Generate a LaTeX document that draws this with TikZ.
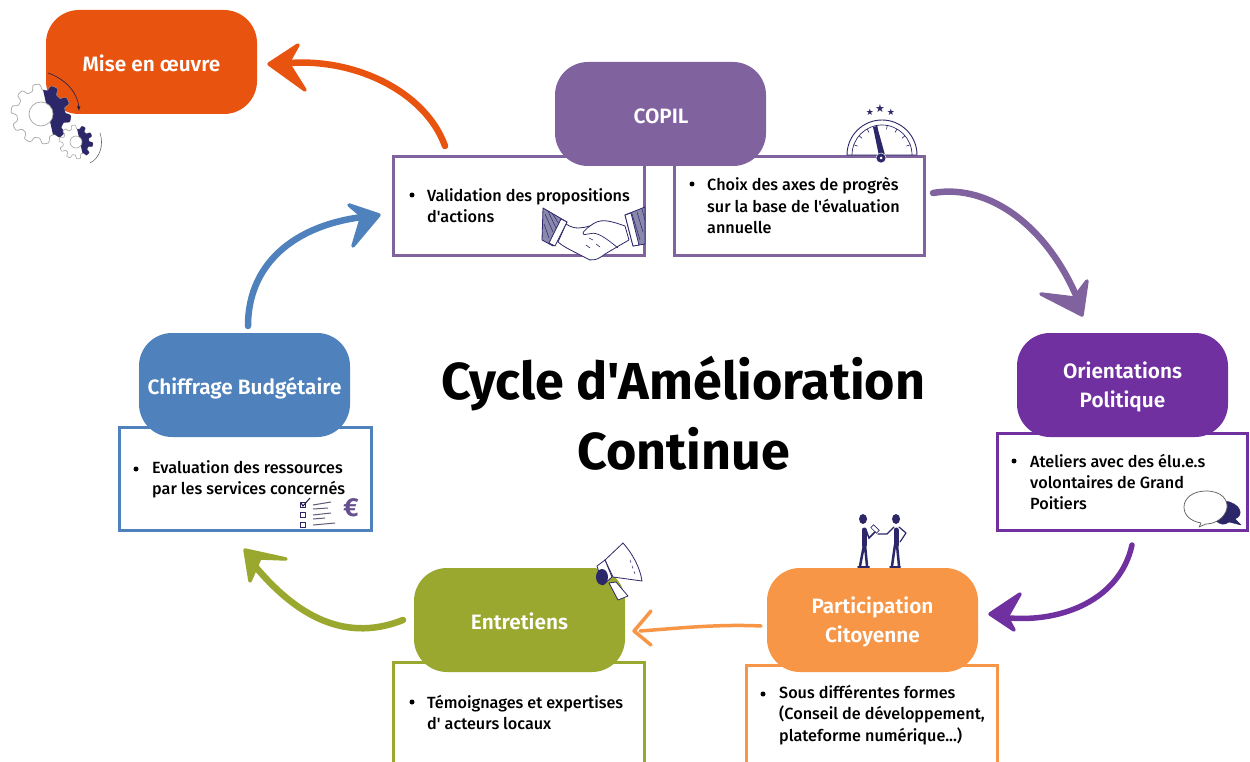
\documentclass[tikz,border=0pt]{standalone}
\usepackage{fontspec}
\setmainfont{Fira Sans}
\newfontfamily\titlefont{Fira Sans Bold}
\newfontfamily\labelfont{Fira Sans SemiBold}
\newfontfamily\bodyfont{Fira Sans Medium}
\newfontfamily\symfont{DejaVu Sans}
\definecolor{cOrange}{HTML}{E8540F}
\definecolor{cCopil}{HTML}{80629F}
\definecolor{cPol}{HTML}{7030A0}
\definecolor{cPart}{HTML}{F79646}
\definecolor{cGreen}{HTML}{9BA82F}
\definecolor{cBlue}{HTML}{4F81BD}
\definecolor{cNavy}{HTML}{2B2768}
\tikzset{
  pill/.style={fill=#1,rounded corners=33pt,minimum width=211pt,minimum height=104pt,inner sep=0pt},
  pilltext/.style={inner sep=0pt,text=white,align=center,font=\labelfont\fontsize{20.8}{29}\selectfont},
  infobox/.style={draw=#1,fill=white,line width=3pt,inner sep=0pt},
  bultext/.style={anchor=west,align=left,inner sep=0pt,text=black,font=\bodyfont\fontsize{16.2}{21.3}\selectfont},
  bulletdot/.style={circle,fill=black,minimum size=5pt,inner sep=0pt},
  curve/.style={draw=#1,line width=6.5pt,line cap=round},
  headshape/.style={fill=#1,draw=#1,line width=3.5pt,line join=round},
  icon/.style={draw=cNavy,line width=.8pt,line join=round},
}
% gear: cx cy radius amp startangle endangle
\newcommand{\gearpath}[6]{plot[domain=#5:#6,samples=140] ({#1+(#3+#4*tanh(3*sin(10*\x)))*cos(\x)},{#2+(#3+#4*tanh(3*sin(10*\x)))*sin(\x)})}
\begin{document}
\begin{tikzpicture}[x=1pt,y=-1pt]
\useasboundingbox (0,0) rectangle (1250,762);
\fill[white] (0,0) rectangle (1250,762);

% outlined boxes
\node[infobox=cCopil,minimum width=251pt,minimum height=99pt] (bval) at (519,206) {};
\node[infobox=cCopil,minimum width=250pt,minimum height=99pt] (bchoix) at (799.5,206) {};
\node[infobox=cPol,minimum width=250pt,minimum height=97pt] (bpol) at (1122,482) {};
\node[infobox=cPart,minimum width=251pt,minimum height=110pt] (bpart) at (872,720) {};
\node[infobox=cGreen,minimum width=251pt,minimum height=110pt] (bent) at (519,717) {};
\node[infobox=cBlue,minimum width=252pt,minimum height=103pt] (bchif) at (245,479) {};

% pills
\node[pill=cOrange] (mise) at (151.5,62) {};
\node[pill=cCopil] (copil) at (660.5,114) {};
\node[pill=cPol] (orient) at (1122.5,385) {};
\node[pill=cPart] (partic) at (872.5,620) {};
\node[pill=cGreen] (entre) at (519.5,620) {};
\node[pill=cBlue] (chiff) at (244.5,385) {};
\node[pilltext] (lmise) at (151.5,63) {Mise en œuvre};
\node[pilltext] (lcopil) at (661,116) {COPIL};
\node[pilltext] (lorient) at (1122.5,387) {Orientations\\Politique};
\node[pilltext] (lpartic) at (872.5,622) {Participation\\Citoyenne};
\node[pilltext] (lentre) at (519.5,621) {Entretiens};
\node[pilltext] (lchiff) at (244.5,388) {Chiffrage Budgétaire};

% title
\node[inner sep=0pt,align=center,font=\titlefont\fontsize{52}{70}\selectfont] (title) at (683.5,413) {Cycle d'Amélioration\\Continue};

% bullet texts
\node[bulletdot] (d1) at (412,195) {};
\node[bultext] (t1) at (427,205.5) {Validation des propositions\\d'actions};
\node[bulletdot] (d2) at (692,184) {};
\node[bultext] (t2) at (707,205.5) {Choix des axes de progrès\\sur la base de l'évaluation\\annuelle};
\node[bulletdot] (d3) at (1014,461) {};
\node[bultext] (t3) at (1030,482) {Ateliers avec des élu.e.s\\volontaires de Grand\\Poitiers};
\node[bulletdot] (d4) at (763,694) {};
\node[bultext] (t4) at (779,715) {Sous différentes formes\\(Conseil de développement,\\plateforme numérique...)};
\node[bulletdot] (d5) at (412,702) {};
\node[bultext] (t5) at (427,712.5) {Témoignages et expertises\\d' acteurs locaux};
\node[bulletdot] (d6) at (136,469) {};
\node[bultext] (t6) at (152,479.5) {Evaluation des ressources\\par les services concernés};

% connector ends
\coordinate (a1s) at (445,146);
\coordinate (a1e) at (280,64);
\coordinate (a2s) at (933,193);
\coordinate (a2e) at (1080,305);
\coordinate (a3s) at (1132,545);
\coordinate (a3e) at (1000,617);
\coordinate (a4s) at (761,626);
\coordinate (a4e) at (640,631);
\coordinate (a5s) at (403,620);
\coordinate (a5e) at (250,560);
\coordinate (a6s) at (248,326);
\coordinate (a6e) at (372,216);

% connectors
\draw[curve=cOrange] (a1s) .. controls (425,90) and (350,55) .. (a1e);
\filldraw[headshape=cOrange] (269,64) -- (298,45) -- (288,63) -- (305,90) -- cycle;
\draw[curve=cCopil] (a2s) .. controls (990,183) and (1050,228) .. (a2e);
\filldraw[headshape=cCopil] (1082,315) -- (1041,294) -- (1074,298) -- (1087,281) -- cycle;
\draw[curve=cPol,line width=5.5pt] (a3s) .. controls (1120,600) and (1060,625) .. (a3e);
\filldraw[headshape=cPol] (990,614) -- (1020,594) -- (1007,617) -- (1014,630) -- cycle;
\draw[curve=cPart,line width=3.5pt] (a4s) .. controls (720,624) and (680,628) .. (a4e);
\draw[draw=cPart,line width=3.5pt,line cap=round,line join=round] (651,611) -- (634,631) -- (651,645);
\draw[curve=cGreen] (a5s) .. controls (340,645) and (290,610) .. (a5e);
\filldraw[headshape=cGreen] (245,550) -- (286,559) -- (260,558) -- (250,581) -- cycle;
\draw[curve=cBlue] (a6s) .. controls (248,260) and (300,222) .. (a6e);
\filldraw[headshape=cBlue] (379,215) -- (349,205) -- (362,216) -- (353,246) -- cycle;

% gears
\draw[gray!70,line width=.7pt,fill=white] \gearpath{41}{114}{27}{3}{0}{360} -- cycle;
\fill[cNavy] \gearpath{41}{114}{27}{3}{-85}{60} -- cycle;
\fill[white] (41,114) circle (12);
\draw[gray!70,line width=.7pt] (41,114) circle (12);
\draw[gray!70,line width=.6pt,fill=white] \gearpath{76}{142}{15}{2}{0}{360} -- cycle;
\fill[cNavy] \gearpath{76}{142}{15}{2}{-85}{60} -- cycle;
\fill[white] (76,142) circle (6);
\draw[gray!70,line width=.6pt] (76,142) circle (6);
\draw[cNavy!70!black,line width=.6pt,-latex] (48,73) .. controls (68,80) and (78,95) .. (79,111);
\draw[gray!80!black,line width=.6pt] (100,133) .. controls (104,145) and (100,158) .. (90,163);

% gauge
\draw[cNavy,line width=.9pt,fill=white] (847,155) arc[start angle=180,end angle=360,radius=35] -- cycle;
\draw[cNavy,line width=.7pt] (852,155) arc[start angle=180,end angle=360,radius=30];
\foreach \a in {20,40,60,80,100,120,140,160}{
  \draw[cNavy,line width=.6pt] ({882+30*cos(\a)},{155-30*sin(\a)}) -- ({882+26*cos(\a)},{155-26*sin(\a)});
}
\fill[cNavy] (873,127) -- (877,126) -- (885,155) -- (879,156) -- cycle;
\filldraw[fill=cNavy,draw=white,line width=.5pt] (881,158) circle (5);
\fill[white] (881,158) circle (1.5);
\node[inner sep=0pt,text=cNavy,font=\symfont\fontsize{9}{9}\selectfont] (s1) at (870,112) {★};
\node[inner sep=0pt,text=cNavy,font=\symfont\fontsize{11}{11}\selectfont] (s2) at (880,109) {★};
\node[inner sep=0pt,text=cNavy,font=\symfont\fontsize{9}{9}\selectfont] (s3) at (891,112) {★};

% handshake
\filldraw[fill=white,draw=cNavy,line width=.8pt,line join=round]
  (566,224) .. controls (575,230) and (582,228) .. (590,226)
  .. controls (600,218) and (608,220) .. (625,226) -- (629,240)
  .. controls (620,245) and (612,250) .. (605,254)
  .. controls (598,260) and (590,262) .. (586,258)
  .. controls (575,252) and (565,248) .. (558,242) -- cycle;
\draw[cNavy,line width=.7pt] (590,226) .. controls (582,232) and (580,236) .. (588,234) .. controls (595,232) and (600,233) .. (618,248);
\draw[cNavy,line width=.6pt] (589,238) -- (593,240) (596,244) -- (600,247) (586,245) -- (590,248);
\filldraw[fill=cNavy!55!white,draw=cNavy,line width=.8pt,line join=round] (543,208) -- (567,222) -- (553,246) -- (542,240) -- cycle;
\draw[cNavy,line width=.5pt] (545,214) -- (553,232) (548,211) -- (556,228) (552,213) -- (559,224) (544,224) -- (549,238);
\filldraw[fill=white,draw=cNavy,line width=.8pt,line join=round] (561,219) -- (567,222) -- (555,246) -- (549,243) -- cycle;
\filldraw[fill=cNavy!55!white,draw=cNavy,line width=.8pt,line join=round] (625,215) -- (645,207) -- (645,244) -- (633,246) -- cycle;
\draw[cNavy,line width=.5pt] (632,214) -- (640,240) (637,212) -- (643,232) (642,209) -- (645,220);
\filldraw[fill=white,draw=cNavy,line width=.8pt,line join=round] (625,215) -- (631,213) -- (639,245) -- (633,246) -- cycle;

% speech bubbles
\filldraw[fill=cNavy,draw=cNavy,line join=round] (1225,501) .. controls (1240,503) and (1245,515) .. (1235,519) -- (1241,525) -- (1229,522) .. controls (1224,526) and (1220,524) .. (1216,521) .. controls (1222,515) and (1225,510) .. (1225,501) -- cycle;
\filldraw[fill=white,draw=gray!70!black,line width=.7pt,line join=round] (1206,491) .. controls (1222,491) and (1228,500) .. (1227,508) .. controls (1225,518) and (1215,524) .. (1206,524) -- (1199,527) -- (1201,523) .. controls (1190,521) and (1184,515) .. (1184,507) .. controls (1184,498) and (1193,491) .. (1206,491) -- cycle;

% people
\fill[cNavy] (863,519) ellipse (4 and 5);
\fill[cNavy] (896,519) ellipse (4 and 5);
\draw[cNavy,line width=5pt,line cap=round] (864,530) -- (864,545);
\draw[cNavy,line width=2.5pt,line cap=round] (864,545) -- (860,566) (865,545) -- (867,566);
\draw[cNavy,line width=1.5pt,line cap=round] (866,530) -- (869,538) -- (875,532);
\draw[cNavy,line width=5pt,line cap=round] (896,530) -- (896,545);
\draw[cNavy,line width=2.5pt,line cap=round] (895,545) -- (892,566) (897,545) -- (899,566);
\draw[cNavy,line width=1.2pt,line cap=round,line join=round] (894,527) -- (887,534) -- (878,534) (899,527) -- (906,533) -- (900,542);
\draw[cNavy,line width=.6pt,rotate around={-45:(875,529)}] (871,527) rectangle (879,531);
\draw[cNavy,line width=2pt,line cap=round] (858,567) -- (869,567) (890,567) -- (900,567);

% megaphone
\filldraw[fill=white,icon] (623,543) .. controls (632,553) and (640,567) .. (642,581) -- (613,577) -- (605,560) -- cycle;
\filldraw[fill=white,icon] (605,560) -- (612,577) -- (603,585) -- (597,566) -- cycle;
\filldraw[fill=white,icon] (609,583) -- (616,582) -- (628,596) -- (618,600) -- cycle;
\fill[cNavy] (602,577) ellipse (6 and 8);
\draw[cNavy,line width=.5pt,dashed] (630,560) -- (636,577);

% checklist
\draw[cNavy,line width=.8pt] (300.5,502) rectangle +(5,5) (300.5,512) rectangle +(5,5) (300.5,522) rectangle +(5,5);
\draw[cNavy!70!black,line width=1pt] (301,503) -- (303,506) -- (310,498);
\draw[gray!60!cNavy,line width=1pt] (313,505) -- (331,502) (313,509) -- (328,508) (313,515) -- (331,513) (313,519) -- (325,518) (313,525) -- (335,523);
\node[inner sep=0pt,text=cCopil!70!cNavy,font=\titlefont\fontsize{26}{26}\selectfont] (euro) at (351,508) {€};
\end{tikzpicture}
\end{document}
